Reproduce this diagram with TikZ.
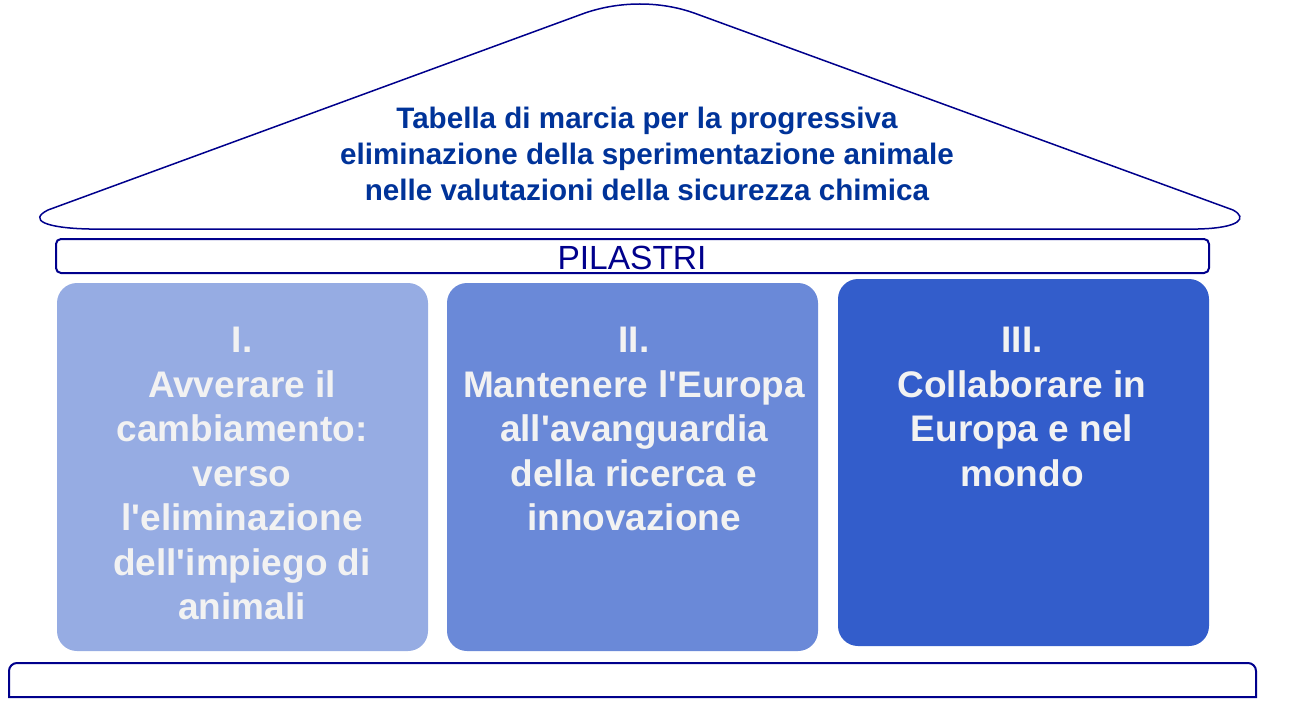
\documentclass[tikz,border=0pt]{standalone}
\usepackage{fontspec}
\setmainfont{Liberation Sans}
\definecolor{navy}{RGB}{0,0,140}
\definecolor{rooftext}{RGB}{0,51,153}
\definecolor{boxA}{RGB}{150,172,227}
\definecolor{boxB}{RGB}{106,137,216}
\definecolor{boxC}{RGB}{51,93,203}
\definecolor{boxtext}{RGB}{242,242,242}
\newcommand{\ap}{\textquotesingle}
\begin{document}
\begin{tikzpicture}[x=1pt,y=-1pt,
  pillar/.style={rounded corners=20pt},
  pillartext/.style={text=boxtext,font=\fontsize{37}{44.5}\selectfont\bfseries,align=center,anchor=north,inner sep=0pt},
  outline/.style={draw=navy,line width=2pt}]
\useasboundingbox (0,0) rectangle (1298,714);
% roof
\draw[navy,line width=1.5pt,fill=white] (89,229) .. controls (45,228) and (28,220) .. (48,210)
  -- (585,13) .. controls (620,1) and (660,1) .. (694,13)
  -- (1233,210) .. controls (1248,218) and (1240,228) .. (1198,229) -- cycle;
\node[text=rooftext,font=\fontsize{29.6}{36}\selectfont\bfseries,align=center] (roof) at (647,154)
  {Tabella di marcia per la progressiva\\eliminazione della sperimentazione animale\\nelle valutazioni della sicurezza chimica};
% pilastri bar
\draw[outline,rounded corners=5pt] (56,239) rectangle (1209,273);
\node[text=navy,font=\fontsize{33.5}{36}\selectfont] (pil) at (632,258) {PILASTRI};
% pillars
\fill[boxA,pillar] (57,283) rectangle (428,651);
\fill[boxB,pillar] (447,283) rectangle (818,651);
\fill[boxC,pillar] (838,279) rectangle (1209,646);
\node[pillartext] (p1) at (242,327) {I.\\Avverare il\\cambiamento:\\verso\\l\ap eliminazione\\dell\ap impiego di\\animali};
\node[pillartext] (p2) at (634,327) {II.\\Mantenere l\ap Europa\\all\ap avanguardia\\della ricerca e\\innovazione};
\node[pillartext] (p3) at (1022,327) {III.\\Collaborare in\\Europa e nel\\mondo};
% base
\draw[outline] (9,697) -- (9,672) [rounded corners=8pt] -- (9,663) -- (1256,663) [sharp corners] -- (1256,697) -- cycle;
\end{tikzpicture}
\end{document}
